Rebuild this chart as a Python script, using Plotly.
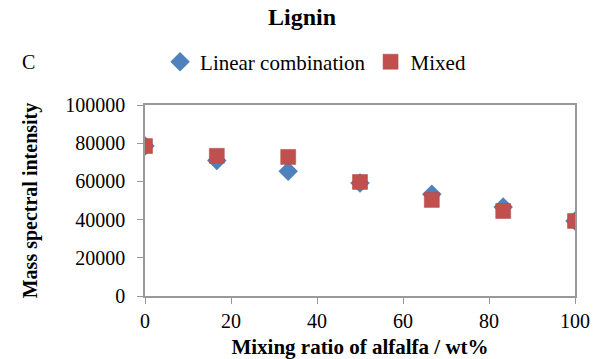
import plotly.graph_objects as go

# Mixing ratio of alfalfa (wt%)
ratio = [0, 16.7, 33.3, 50, 66.7, 83.3, 100]

# Lignin mass spectral intensity
linear_combination = [78500, 71000, 65300, 59200, 53300, 46600, 39300]
linear_err = [1500, 1500, 2500, 1500, 1500, 1200, 1000]
mixed = [78500, 73400, 72800, 59700, 50300, 44500, 39300]
mixed_err = [1200, 1500, 1500, 1200, 1200, 1200, 1000]

font_family = "Liberation Serif, Times New Roman, serif"

fig = go.Figure()
fig.add_trace(go.Scatter(
    x=ratio, y=linear_combination, mode="markers", name="Linear combination",
    marker=dict(symbol="diamond", size=15, color="#4F81BD"),
    error_y=dict(type="data", array=linear_err, color="black", thickness=1, width=4),
))
fig.add_trace(go.Scatter(
    x=ratio, y=mixed, mode="markers", name="Mixed",
    marker=dict(symbol="square", size=15, color="#C0504D",
                line=dict(color="#B04A47", width=0.5)),
    error_y=dict(type="data", array=mixed_err, color="black", thickness=1, width=4),
))

fig.update_layout(
    width=604, height=359,
    margin=dict(l=145, r=29, t=105, b=63),
    paper_bgcolor="white", plot_bgcolor="white",
    font=dict(family=font_family, size=20, color="black"),
    title=dict(text="<b>Lignin</b>", x=0.5, xanchor="center", y=0.955, yanchor="middle",
               font=dict(size=24, family=font_family)),
    showlegend=True,
    legend=dict(orientation="h", x=0.035, xanchor="left", y=1.225, yanchor="middle",
                font=dict(size=21, family=font_family), itemwidth=30,
                bgcolor="rgba(0,0,0,0)", tracegroupgap=0),
    xaxis=dict(range=[0, 100], tickvals=[0, 20, 40, 60, 80, 100],
               automargin=False,
               showline=True, linecolor="#999999", linewidth=1.5, mirror=True,
               ticks="outside", ticklen=6, tickcolor="#999999",
               showgrid=False, zeroline=False,
               tickfont=dict(size=20, family=font_family),
               title=dict(text="<b>Mixing ratio of alfalfa / wt%</b>", standoff=11,
                          font=dict(size=21, family=font_family))),
    yaxis=dict(range=[0, 100000], tickvals=[0, 20000, 40000, 60000, 80000, 100000],
               tickformat="d", automargin=False,
               showline=True, linecolor="#999999", linewidth=1.5, mirror=True,
               ticks="outside", ticklen=6, tickcolor="#999999",
               showgrid=False, zeroline=False, ticklabelstandoff=8,
               tickfont=dict(size=20, family=font_family),
               title=dict(text="<b>Mass spectral intensity</b>", standoff=22,
                          font=dict(size=20, family=font_family))),
)

fig.add_annotation(text="C", xref="paper", yref="paper", x=-0.29, y=1.225,
                   xanchor="left", yanchor="middle", showarrow=False,
                   font=dict(size=20, family=font_family))

fig.write_html("out.html")
